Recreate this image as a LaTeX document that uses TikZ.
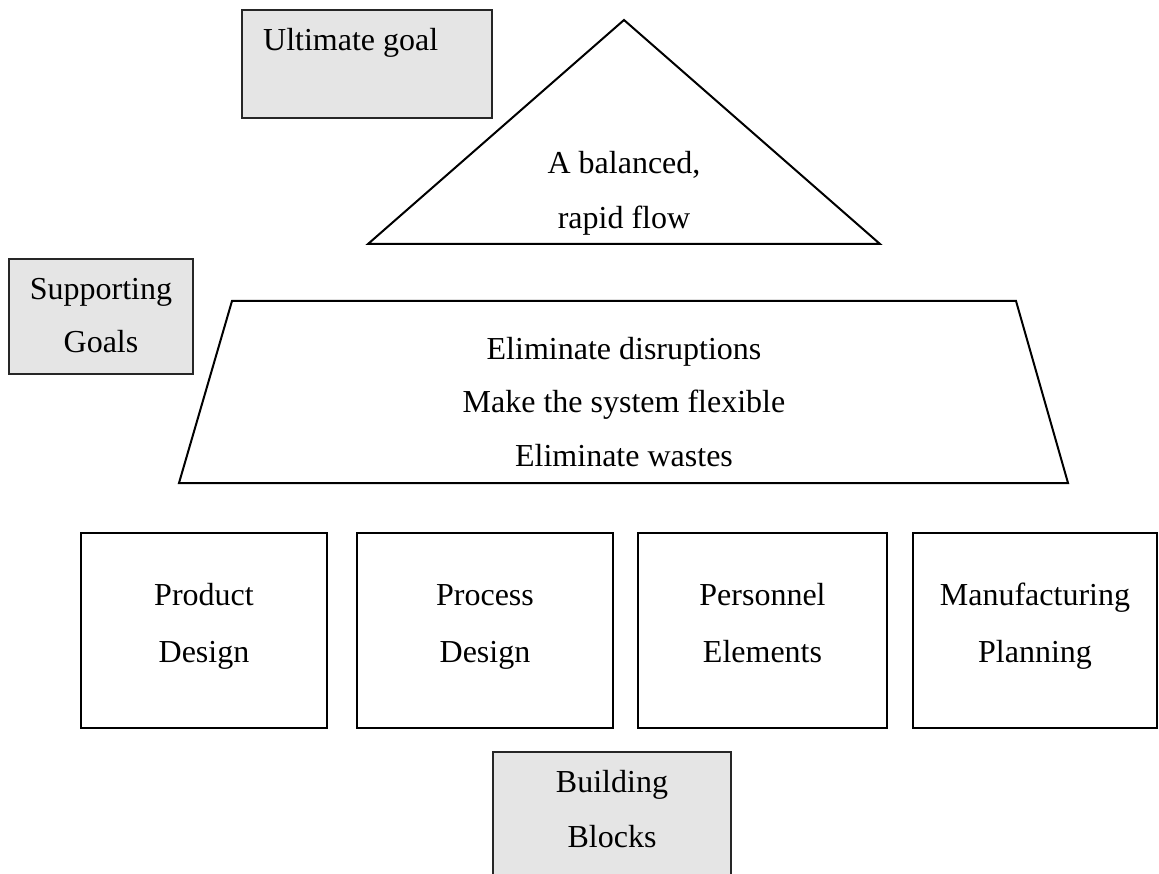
\documentclass[tikz,border=0pt]{standalone}
\usepackage{fontspec}
\setmainfont{Liberation Serif}
\begin{document}
\begin{tikzpicture}[x=1pt,y=-1pt,
  graybox/.style={draw=black!85,fill=black!10,line width=1.4pt,rectangle,inner sep=0pt},
  blockbox/.style={draw=black,line width=2pt,rectangle,inner sep=0pt,minimum width=246pt,minimum height=195pt},
  shapeline/.style={draw=black,line width=2pt,line join=miter},
  txt/.style={font=\fontsize{32}{40}\selectfont,inner sep=0pt,anchor=base,text=black}]
\useasboundingbox (0,0) rectangle (1159,874);
% Ultimate goal
\node[graybox,minimum width=250pt,minimum height=108pt] (ugbox) at (367,64) {};
\node[txt,anchor=base west] (ugtxt) at (263,51) {Ultimate goal};
% triangle
\draw[shapeline] (368,244) -- (624,20) -- (880,244) -- cycle;
\node[txt] (tri1) at (624,174) {A balanced,};
\node[txt] (tri2) at (624,229) {rapid flow};
% supporting goals
\node[graybox,minimum width=184pt,minimum height=115pt] (sgbox) at (101,316.5) {};
\node[txt] (sg1) at (101,300) {Supporting};
\node[txt] (sg2) at (101,353) {Goals};
% trapezoid
\draw[shapeline] (232,301) -- (1016,301) -- (1068,483) -- (179,483) -- cycle;
\node[txt] (tz1) at (624,360) {Eliminate disruptions};
\node[txt] (tz2) at (624,413) {Make the system flexible};
\node[txt] (tz3) at (624,466) {Eliminate wastes};
% building blocks
\node[blockbox] (b1) at (204,630.5) {};
\node[blockbox,minimum width=256pt] (b2) at (485,630.5) {};
\node[blockbox,minimum width=249pt] (b3) at (762.5,630.5) {};
\node[blockbox,minimum width=244pt] (b4) at (1035,630.5) {};
\node[txt] (b1a) at (b1.center |- 0,605) {Product};
\node[txt] (b1b) at (b1.center |- 0,662) {Design};
\node[txt] (b2a) at (b2.center |- 0,605) {Process};
\node[txt] (b2b) at (b2.center |- 0,662) {Design};
\node[txt] (b3a) at (b3.center |- 0,605) {Personnel};
\node[txt] (b3b) at (b3.center |- 0,662) {Elements};
\node[txt] (b4a) at (b4.center |- 0,605) {Manufacturing};
\node[txt] (b4b) at (b4.center |- 0,662) {Planning};
% Building Blocks label box (cut off at bottom)
\fill[black!10] (493,752) rectangle (731,874);
\draw[draw=black!85,line width=1.4pt] (493,874) -- (493,752) -- (731,752) -- (731,874);
\node[txt] (bb1) at (612,792) {Building};
\node[txt] (bb2) at (612,847) {Blocks};
\end{tikzpicture}
\end{document}
